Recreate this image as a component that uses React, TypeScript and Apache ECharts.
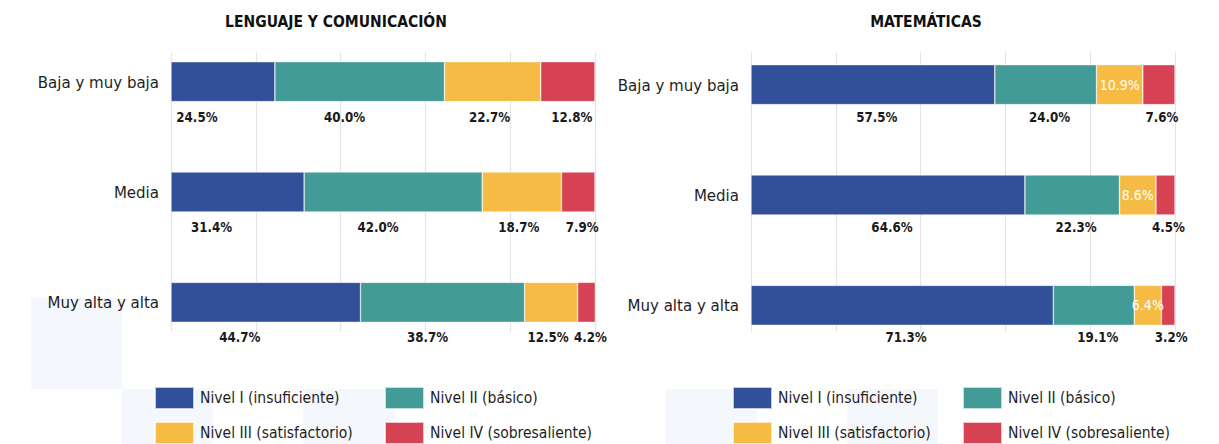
import React, { useEffect, useRef } from "react";
import * as echarts from "echarts";

const categories = ["Baja y muy baja", "Media", "Muy alta y alta"];
const levelNames = [
  "Nivel I (insuficiente)",
  "Nivel II (básico)",
  "Nivel III (satisfactorio)",
  "Nivel IV (sobresaliente)",
];
const levelColors = ["#32509a", "#429b97", "#f6bb44", "#d74154"];

const lenguajeN1 = [24.5, 31.4, 44.7];
const lenguajeN2 = [40.0, 42.0, 38.7];
const lenguajeN3 = [22.7, 18.7, 12.5];
const lenguajeN4 = [12.8, 7.9, 4.2];

const matematicasN1 = [57.5, 64.6, 71.3];
const matematicasN2 = [24.0, 22.3, 19.1];
const matematicasN3 = [10.9, 8.6, 6.4];
const matematicasN4 = [7.6, 4.5, 3.2];

const titles = ["LENGUAJE Y COMUNICACIÓN", "MATEMÁTICAS"];

const FONT = '"DejaVu Sans Condensed", "Liberation Sans", sans-serif';

export default function App() {
  const ref = useRef<HTMLDivElement>(null);

  useEffect(() => {
    document.body.style.margin = "0";
    if (!ref.current) return;
    const chart = echarts.init(ref.current, null, { renderer: "svg" });

    const panels = [
      {
        left: 171,
        barTop: 26.5,
        data: [lenguajeN1, lenguajeN2, lenguajeN3, lenguajeN4],
        insideYellow: false,
        labelDistance: 9,
        labelShift: [-26, -15, -3, 4],
      },
      {
        left: 751,
        barTop: 29.5,
        data: [matematicasN1, matematicasN2, matematicasN3, matematicasN4],
        insideYellow: true,
        labelDistance: 6,
        labelShift: [4, 4, 0, 3],
      },
    ];

    const grids: any[] = [];
    const xAxes: any[] = [];
    const yAxes: any[] = [];
    const series: any[] = [];

    panels.forEach((p, pi) => {
      // gridline grid
      grids.push({ left: p.left, width: 424, top: 52, height: 280 });
      xAxes.push({
        gridIndex: pi * 2,
        type: "value",
        min: 0,
        max: 100,
        interval: 20,
        axisLabel: { show: false },
        axisLine: { show: false },
        axisTick: { show: false },
        splitLine: { show: true, lineStyle: { color: "#e4e4e4", width: 1.2 } },
      });
      yAxes.push({
        gridIndex: pi * 2,
        type: "category",
        data: categories,
        show: false,
      });
      // bar grid
      grids.push({ left: p.left, width: 424, top: p.barTop, height: 331 });
      xAxes.push({
        gridIndex: pi * 2 + 1,
        type: "value",
        min: 0,
        max: 100,
        show: false,
        splitLine: { show: false },
      });
      yAxes.push({
        gridIndex: pi * 2 + 1,
        type: "category",
        data: categories,
        inverse: true,
        axisLine: { show: false },
        axisTick: { show: false },
        splitLine: { show: false },
        axisLabel: {
          margin: 12,
          fontFamily: FONT,
          fontSize: 16.7,
          color: "#1e1e1e",
        },
      });
      p.data.forEach((vals, li) => {
        const inside = p.insideYellow && li === 2;
        series.push({
          type: "bar",
          name: levelNames[li],
          stack: "s" + pi,
          xAxisIndex: pi * 2 + 1,
          yAxisIndex: pi * 2 + 1,
          barWidth: 40,
          data: vals,
          itemStyle: { color: levelColors[li], borderColor: "rgba(255,255,255,0.7)", borderWidth: 0.6 },
          label: inside
            ? {
                show: true,
                position: "inside",
                color: "#ffffff",
                fontFamily: FONT,
                fontSize: 14,
                formatter: (d: any) => d.value.toFixed(1) + "%",
              }
            : {
                show: true,
                position: "bottom",
                distance: p.labelDistance,
                offset: [p.labelShift[li], 0],
                color: "#1a1a1a",
                fontFamily: FONT,
                fontWeight: "bold",
                fontSize: 13.2,
                formatter: (d: any) => d.value.toFixed(1) + "%",
              },
        });
      });
    });

    const legendPos = [
      [154, 386],
      [384, 386],
      [154, 421],
      [384, 421],
      [732, 386],
      [962, 386],
      [732, 421],
      [962, 421],
    ];
    const legends = legendPos.map((pos, i) => ({
      data: [levelNames[i % 4]],
      left: pos[0],
      top: pos[1],
      padding: 0,
      itemWidth: 39,
      itemHeight: 22,
      icon: "rect",
      textStyle: { fontFamily: FONT, fontSize: 15.5, color: "#1e1e1e", padding: [0, 0, 0, 1] },
    }));

    const bgRects = [
      [31, 298, 91, 91],
      [122, 389, 91, 55],
      [303, 389, 91, 55],
      [666, 389, 91, 55],
      [847, 389, 91, 55],
    ];

    chart.setOption({
      animation: false,
      backgroundColor: "#ffffff",
      grid: grids,
      xAxis: xAxes,
      yAxis: yAxes,
      series,
      legend: legends,
      graphic: [
        ...bgRects.map((r) => ({
          type: "rect",
          z: -10,
          silent: true,
          shape: { x: r[0], y: r[1], width: r[2], height: r[3] },
          style: { fill: "#f4f7fb" },
        })),
        {
          type: "text",
          x: 336,
          y: 22,
          style: {
            text: titles[0],
            align: "center",
            verticalAlign: "middle",
            fontFamily: FONT,
            fontWeight: "bold",
            fontSize: 15.5,
            fill: "#111",
          },
        },
        {
          type: "text",
          x: 926,
          y: 22,
          style: {
            text: titles[1],
            align: "center",
            verticalAlign: "middle",
            fontFamily: FONT,
            fontWeight: "bold",
            fontSize: 15.5,
            fill: "#111",
          },
        },
      ],
    });

    return () => chart.dispose();
  }, []);

  return <div ref={ref} style={{ width: 1219, height: 444 }} />;
}
